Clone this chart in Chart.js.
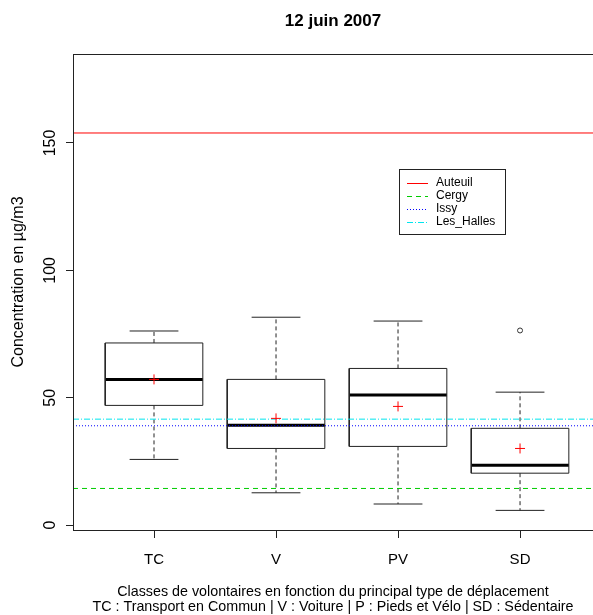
<!DOCTYPE html>
<html>
<head>
<meta charset="utf-8">
<script src="https://cdn.jsdelivr.net/npm/chart.js@4.4.1/dist/chart.umd.min.js"></script>
<style>
  html, body { margin: 0; padding: 0; background: #fff; }
  canvas { display: block; }
</style>
</head>
<body>
<canvas id="main-chart" width="593" height="615"></canvas>
<script>
// boxplot stats per class
const categories = ['TC', 'V', 'PV', 'SD'];
const whiskerLow = [25.8, 12.7, 8.3, 5.8];
const q1 = [47.0, 30.1, 30.9, 20.4];
const medians = [57.2, 39.2, 51.1, 23.5];
const q3 = [71.5, 57.2, 61.5, 38.0];
const whiskerHigh = [76.2, 81.6, 80.1, 52.2];
const means = [57.2, 41.9, 46.6, 30.1];
const outliers = [[], [], [], [76.4]];

// reference stations
const siteNames = ['Auteuil', 'Cergy', 'Issy', 'Les_Halles'];
const siteValues = [153.9, 14.4, 39.0, 41.6];
const siteColors = ['#ff0000', '#00cc00', '#0000ff', '#00e5ee'];
const siteDashes = [[], [5, 4], [1, 2], [6, 2, 1, 2]];

const yTicks = [0, 50, 100, 150];
const yLabel = 'Concentration en µg/m3';

const X_MIN = 0.336, X_MAX = 4.598;
const HALF = 0.4, CAP = 0.2;
const FONT = '"Liberation Sans", Arial, sans-serif';

const datasets = [];
const seg = (pts, extra) => datasets.push(Object.assign({
  data: pts, showLine: true, borderColor: '#222', borderWidth: 1,
  pointRadius: 0, order: 1
}, extra));

categories.forEach((c, i) => {
  const x = i + 1;
  seg([{x: x - HALF, y: q1[i]}, {x: x + HALF, y: q1[i]}, {x: x + HALF, y: q3[i]},
       {x: x - HALF, y: q3[i]}, {x: x - HALF, y: q1[i]}]);
  seg([{x: x - HALF, y: medians[i]}, {x: x + HALF, y: medians[i]}], {borderWidth: 3, borderColor: '#000'});
  seg([{x: x, y: q3[i]}, {x: x, y: whiskerHigh[i]}], {borderDash: [4, 3]});
  seg([{x: x, y: q1[i]}, {x: x, y: whiskerLow[i]}], {borderDash: [4, 3]});
  seg([{x: x - CAP, y: whiskerHigh[i]}, {x: x + CAP, y: whiskerHigh[i]}]);
  seg([{x: x - CAP, y: whiskerLow[i]}, {x: x + CAP, y: whiskerLow[i]}]);
  datasets.push({
    data: [{x: x, y: means[i]}], showLine: false, pointStyle: 'cross',
    pointRadius: 5, borderColor: '#ff0000', borderWidth: 1, order: 0
  });
  if (outliers[i].length) {
    datasets.push({
      data: outliers[i].map(v => ({x: x, y: v})), showLine: false,
      pointStyle: 'circle', pointRadius: 2.5, borderColor: '#333',
      backgroundColor: '#fff', borderWidth: 1, order: 0
    });
  }
});

siteNames.forEach((s, i) => {
  seg([{x: X_MIN, y: siteValues[i]}, {x: X_MAX, y: siteValues[i]}],
      {borderColor: siteColors[i], borderDash: siteDashes[i], order: 0});
});

const decor = {
  id: 'decor',
  afterDraw(chart) {
    const ctx = chart.ctx, a = chart.chartArea, ys = chart.scales.y;
    ctx.save();
    // plot box
    ctx.strokeStyle = '#222';
    ctx.lineWidth = 1;
    ctx.strokeRect(a.left + 0.5, a.top + 0.5, a.right - a.left + 5, a.bottom - a.top);
    // y tick labels and y title, rotated like R
    ctx.fillStyle = '#000';
    ctx.textAlign = 'center';
    ctx.textBaseline = 'middle';
    ctx.font = '16px ' + FONT;
    yTicks.forEach(t => {
      ctx.save();
      ctx.translate(51, ys.getPixelForValue(t));
      ctx.rotate(-Math.PI / 2);
      ctx.fillText(String(t), 0, 0);
      ctx.restore();
    });
    ctx.save();
    ctx.translate(19, 282);
    ctx.rotate(-Math.PI / 2);
    ctx.fillText(yLabel, 0, 0);
    ctx.restore();
    // legend
    const lx = 399, ly = 169, lw = 106, lh = 65;
    ctx.fillStyle = '#fff';
    ctx.fillRect(lx, ly, lw, lh);
    ctx.strokeStyle = '#222';
    ctx.strokeRect(lx + 0.5, ly + 0.5, lw, lh);
    ctx.font = '12px ' + FONT;
    ctx.textAlign = 'left';
    siteNames.forEach((s, i) => {
      const y = ly + 14 + i * 13;
      ctx.strokeStyle = siteColors[i];
      ctx.setLineDash(siteDashes[i]);
      ctx.beginPath();
      ctx.moveTo(lx + 8, y + 0.5);
      ctx.lineTo(lx + 29, y + 0.5);
      ctx.stroke();
      ctx.setLineDash([]);
      ctx.fillStyle = '#000';
      ctx.fillText(s, lx + 37, y);
    });
    ctx.restore();
  }
};

new Chart(document.getElementById('main-chart').getContext('2d'), {
  type: 'scatter',
  data: { datasets },
  options: {
    responsive: false,
    animation: false,
    layout: { autoPadding: false, padding: 0 },
    plugins: {
      legend: { display: false },
      tooltip: { enabled: false },
      title: {
        display: true, text: '12 juin 2007', fullSize: false, color: '#000',
        font: { family: FONT, size: 17, weight: 'bold', lineHeight: 1.2 },
        padding: { top: 11, bottom: 22.6 }
      }
    },
    scales: {
      x: {
        type: 'linear', min: X_MIN, max: X_MAX,
        afterBuildTicks: s => { s.ticks = categories.map((c, i) => ({ value: i + 1 })); },
        afterFit: s => { s.height = 85; },
        border: { display: false },
        grid: { drawOnChartArea: false, drawTicks: true, tickLength: 8, color: '#222' },
        ticks: {
          color: '#000', padding: 13, maxRotation: 0, autoSkip: false,
          font: { family: FONT, size: 15 },
          callback: v => categories[v - 1]
        },
        title: {
          display: true, color: '#000',
          text: ['Classes de volontaires en fonction du principal type de déplacement',
                 'TC : Transport en Commun | V : Voiture | P : Pieds et Vélo | SD : Sédentaire'],
          font: { family: FONT, size: 14.3, lineHeight: 1.05 },
          padding: { top: 0, bottom: 0 }
        }
      },
      y: {
        type: 'linear', min: -1.9, max: 184.9,
        afterBuildTicks: s => { s.ticks = yTicks.map(v => ({ value: v })); },
        afterFit: s => { s.width = 73; },
        border: { display: false },
        grid: { drawOnChartArea: false, drawTicks: true, tickLength: 7, color: '#222' },
        ticks: { display: false }
      }
    }
  },
  plugins: [decor]
});
</script>
</body>
</html>
